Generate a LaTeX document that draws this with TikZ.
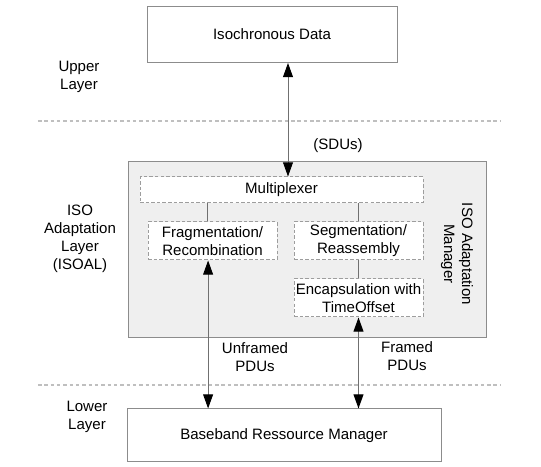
\documentclass[tikz,border=0pt]{standalone}
\usepackage{fontspec}
\setmainfont{Liberation Sans}
\usepackage{xcolor}
\usetikzlibrary{arrows.meta}
\definecolor{bordo}{HTML}{8C8C8C}
\definecolor{sfondo}{HTML}{EFEFEF}
\definecolor{linea}{HTML}{707070}
\tikzset{
    testo/.style={font=\fontsize{10.7}{12.8}\selectfont, align=center},
    blocco/.style={testo, draw=bordo, line width=0.7pt, fill=white, inner sep=0pt},
    sottoblocco/.style={testo, draw=bordo!85, line width=0.7pt,
                        dash pattern=on 2.5pt off 1.5pt, fill=white, inner sep=0pt},
    collega/.style={draw=linea, line width=0.7pt},
    freccia/.style={collega, {Triangle[length=10pt,width=7pt,color=black]}-{Triangle[length=10pt,width=7pt,color=black]}},
    separa/.style={draw=black!25, line width=0.8pt, dash pattern=on 2.5pt off 2pt},
}
\begin{document}
\begin{tikzpicture}

    \useasboundingbox (0,0) rectangle (13.525,11.675);

        % Separatori tra i livelli
    \draw[separa] (0.95,8.65) -- (12.5,8.65);
    \draw[separa] (0.95,2.05) -- (12.5,2.05);

        % Etichette dei livelli
    \node[testo] (upper) at (1.975,9.75) {Upper\\Layer};
    \node[testo] (isoal) at (2.0,5.7) {ISO\\Adaptation\\Layer\\(ISOAL)};
    \node[testo] (lower) at (2.175,1.25) {Lower\\Layer};

        % Livello superiore
    \node[blocco, minimum width=6.25cm, minimum height=1.4cm] (iso) at (6.8,10.8125) {Isochronous Data};

        % ISO Adaptation Manager
    \node[draw=bordo, fill=sfondo, line width=0.7pt, minimum width=8.95cm, minimum height=4.4cm] (manager) at (7.675,5.425) {};
    \node[testo, rotate=-90] (mgrlabel) at (11.425,5.325) {ISO Adaptation\\Manager};

    \node[sottoblocco, minimum width=7.075cm, minimum height=0.65cm] (mux) at (7.0375,6.925) {Multiplexer};
    \node[sottoblocco, minimum width=3.225cm, minimum height=0.95cm] (frag) at (5.3125,5.65) {Fragmentation/\\Recombination};
    \node[sottoblocco, minimum width=3.225cm, minimum height=0.95cm] (seg) at (8.9625,5.65) {Segmentation/\\Reassembly};
    \node[sottoblocco, minimum width=3.225cm, minimum height=0.95cm] (encap) at (8.9625,4.225) {Encapsulation with\\TimeOffset};

    \draw[collega] ([xshift=-0.13cm]mux.south -| frag.north) -- ([xshift=-0.13cm]frag.north); % Mux - Frag
    \draw[collega] (mux.south -| seg.north) -- (seg.north);   % Mux - Seg
    \draw[collega] (seg.south) -- (encap.north);              % Seg - Encap

        % Livello inferiore
    \node[blocco, minimum width=7.85cm, minimum height=1.325cm] (base) at (7.1,0.7875) {Baseband Ressource Manager};

        % Frecce
    \draw[freccia] ([xshift=0.4cm]iso.south) -- ([xshift=0.4cm]iso.south |- mux.north);
    \draw[freccia] ([xshift=-0.11cm]frag.south) -- ([xshift=-0.11cm]frag.south |- base.north);
    \draw[freccia] (encap.south) -- (encap.south |- base.north);

    \node[testo] (sdu) at (8.45,8.025) {(SDUs)};
    \node[testo] (unframed) at (6.375,2.75) {Unframed\\PDUs};
    \node[testo] (framed) at (10.175,2.775) {Framed\\PDUs};

\end{tikzpicture}
\end{document}
